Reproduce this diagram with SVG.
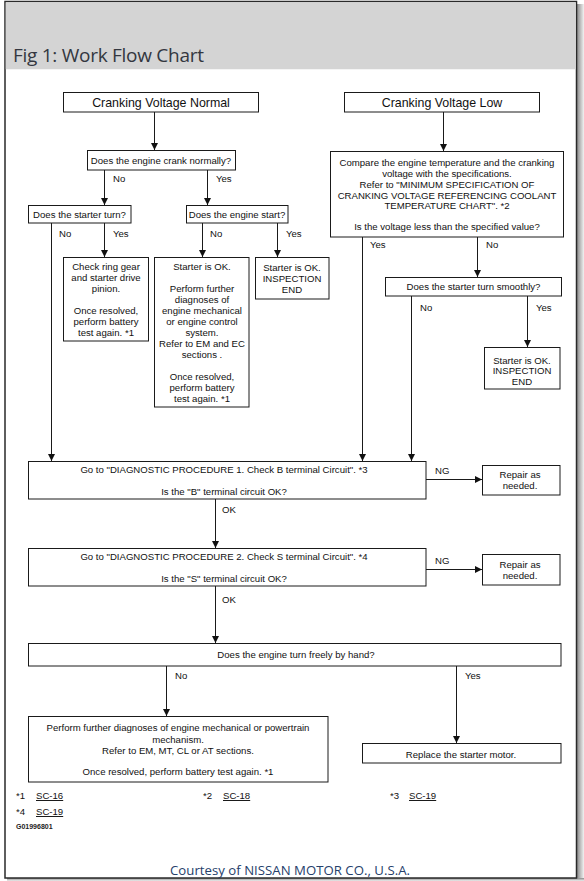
<svg xmlns="http://www.w3.org/2000/svg" width="584" height="881" viewBox="0 0 584 881">
<defs>
<style>
.box{fill:#fff;stroke:#1a1a1a;stroke-width:1}
.t{font-family:"Liberation Sans",Arial,sans-serif;font-size:9.6px;fill:#111;text-anchor:middle}
.lb{font-family:"Liberation Sans",Arial,sans-serif;font-size:9.6px;fill:#111}
.big{font-family:"Liberation Sans",Arial,sans-serif;font-size:12.4px;fill:#111;text-anchor:middle}
.c{fill:none;stroke:#1a1a1a;stroke-width:1}
.u{text-decoration:underline}
</style>
<marker id="ah" markerUnits="userSpaceOnUse" markerWidth="8" markerHeight="8" refX="7" refY="3.5" orient="auto">
<path d="M0,0 L7,3.5 L0,7 z" fill="#111"/>
</marker>
<linearGradient id="shr" x1="0" y1="0" x2="1" y2="0">
<stop offset="0" stop-color="#8a8a8a"/>
<stop offset="1" stop-color="#f2f2f2"/>
</linearGradient>
<linearGradient id="shb" x1="0" y1="0" x2="0" y2="1">
<stop offset="0" stop-color="#8a8a8a"/>
<stop offset="1" stop-color="#eeeeee"/>
</linearGradient>
</defs>
<rect x="0" y="0" width="584" height="881" fill="#fff"/>
<g id="frame">
<rect x="577" y="4" width="7" height="877" fill="url(#shr)"/>
<rect x="7" y="878" width="577" height="3" fill="url(#shb)"/>
<rect x="5" y="1.5" width="571.5" height="876.5" fill="#fff" stroke="#2a2a2a" stroke-width="1.5"/>
<rect x="5.75" y="2.25" width="570" height="67" fill="#d4d4d4"/>
<text x="13" y="62" font-family="'Open Sans','Noto Sans',sans-serif" font-size="19" fill="#333740" textLength="191" lengthAdjust="spacing">Fig 1: Work Flow Chart</text>
</g>
<g id="connectors">
<path class="c" d="M154.5,112 V150" marker-end="url(#ah)"/>
<path class="c" d="M443.5,112 V151" marker-end="url(#ah)"/>
<path class="c" d="M104.5,170 V205" marker-end="url(#ah)"/>
<path class="c" d="M207.5,170 V205" marker-end="url(#ah)"/>
<path class="c" d="M51.5,223 V461" marker-end="url(#ah)"/>
<path class="c" d="M104.5,223 V257" marker-end="url(#ah)"/>
<path class="c" d="M202.5,223 V257" marker-end="url(#ah)"/>
<path class="c" d="M277.5,223 V257" marker-end="url(#ah)"/>
<path class="c" d="M362.5,237 V461" marker-end="url(#ah)"/>
<path class="c" d="M477.5,237 V277" marker-end="url(#ah)"/>
<path class="c" d="M411.5,296 V461" marker-end="url(#ah)"/>
<path class="c" d="M527.5,296 V347" marker-end="url(#ah)"/>
<path class="c" d="M426,479.5 H482" marker-end="url(#ah)"/>
<path class="c" d="M215.5,499 V548" stroke="#555" marker-end="url(#ah)"/>
<path class="c" d="M426,569.5 H482" marker-end="url(#ah)"/>
<path class="c" d="M215.5,586 V643" stroke="#555" marker-end="url(#ah)"/>
<path class="c" d="M166.5,666 V716" stroke="#555" marker-end="url(#ah)"/>
<path class="c" d="M456.5,666 V743" marker-end="url(#ah)"/>
<text class="lb" x="113" y="182">No</text>
<text class="lb" x="216" y="182">Yes</text>
<text class="lb" x="59" y="237">No</text>
<text class="lb" x="113" y="237">Yes</text>
<text class="lb" x="210" y="237">No</text>
<text class="lb" x="286" y="237">Yes</text>
<text class="lb" x="370" y="247.5">Yes</text>
<text class="lb" x="486" y="247.5">No</text>
<text class="lb" x="420" y="310.5">No</text>
<text class="lb" x="536" y="310.5">Yes</text>
<text class="lb" x="435" y="473.5">NG</text>
<text class="lb" x="222" y="513">OK</text>
<text class="lb" x="435" y="563.5">NG</text>
<text class="lb" x="222" y="602.5">OK</text>
<text class="lb" x="175" y="679">No</text>
<text class="lb" x="465" y="679">Yes</text>
</g>
<g id="n_normal">
<rect class="box" x="63.5" y="92.5" width="195" height="19.5"/>
<text class="big" x="161" y="106.7">Cranking Voltage Normal</text>
</g>
<g id="n_low">
<rect class="box" x="344.5" y="92.5" width="195" height="19.5"/>
<text class="big" x="442" y="106.7">Cranking Voltage Low</text>
</g>
<g id="n_crank">
<rect class="box" x="87.5" y="150.5" width="148" height="19.5"/>
<text class="t" x="161" y="163.5">Does the engine crank normally?</text>
</g>
<g id="n_starter_turn">
<rect class="box" x="28.5" y="205.5" width="102.5" height="17.5"/>
<text class="t" x="79.5" y="218">Does the starter turn?</text>
</g>
<g id="n_engine_start">
<rect class="box" x="186.5" y="205.5" width="101.5" height="17.5"/>
<text class="t" x="237" y="218">Does the engine start?</text>
</g>
<g id="n_ring_gear">
<rect class="box" x="63.5" y="257.5" width="85" height="83.5"/>
<text class="t" x="106" y="270">Check ring gear</text>
<text class="t" x="106" y="281">and starter drive</text>
<text class="t" x="106" y="292">pinion.</text>
<text class="t" x="106" y="314">Once resolved,</text>
<text class="t" x="106" y="325">perform battery</text>
<text class="t" x="106" y="336">test again. *1</text>
</g>
<g id="n_starter_ok_further">
<rect class="box" x="154.5" y="257.5" width="94.5" height="149.5"/>
<text class="t" x="202" y="270">Starter is OK.</text>
<text class="t" x="202" y="292">Perform further</text>
<text class="t" x="202" y="303">diagnoses of</text>
<text class="t" x="202" y="314">engine mechanical</text>
<text class="t" x="202" y="325">or engine control</text>
<text class="t" x="202" y="336">system.</text>
<text class="t" x="202" y="347">Refer to EM and EC</text>
<text class="t" x="202" y="358">sections .</text>
<text class="t" x="202" y="380">Once resolved,</text>
<text class="t" x="202" y="391">perform battery</text>
<text class="t" x="202" y="402">test again. *1</text>
</g>
<g id="n_ok_end1">
<rect class="box" x="255.5" y="257.5" width="73.5" height="41.5"/>
<text class="t" x="292" y="271">Starter is OK.</text>
<text class="t" x="292" y="282">INSPECTION</text>
<text class="t" x="292" y="293">END</text>
</g>
<g id="n_compare">
<rect class="box" x="330.5" y="151.5" width="233" height="85.5"/>
<text class="t" x="447" y="166">Compare the engine temperature and the cranking</text>
<text class="t" x="447" y="176.5">voltage with the specifications.</text>
<text class="t" x="447" y="187.5">Refer to "MINIMUM SPECIFICATION OF</text>
<text class="t" x="447" y="198.5">CRANKING VOLTAGE REFERENCING COOLANT</text>
<text class="t" x="447" y="208.5">TEMPERATURE CHART". *2</text>
<text class="t" x="447" y="230">Is the voltage less than the specified value?</text>
</g>
<g id="n_smooth">
<rect class="box" x="385.5" y="277.5" width="176" height="18.5"/>
<text class="t" x="473.5" y="290">Does the starter turn smoothly?</text>
</g>
<g id="n_ok_end2">
<rect class="box" x="484.5" y="347.5" width="75.5" height="41.5"/>
<text class="t" x="522" y="363.5">Starter is OK.</text>
<text class="t" x="522" y="374">INSPECTION</text>
<text class="t" x="522" y="384.5">END</text>
</g>
<g id="n_diag1">
<rect class="box" x="28.5" y="461.5" width="397.5" height="37.5"/>
<text class="t" x="224" y="473">Go to "DIAGNOSTIC PROCEDURE 1. Check B terminal Circuit". *3</text>
<text class="t" x="224" y="495">Is the "B" terminal circuit OK?</text>
</g>
<g id="n_repair1">
<rect class="box" x="482.5" y="465.5" width="77.5" height="29.5"/>
<text class="t" x="520" y="478">Repair as</text>
<text class="t" x="520" y="489">needed.</text>
</g>
<g id="n_diag2">
<rect class="box" x="28.5" y="548.5" width="397.5" height="37.5"/>
<text class="t" x="224" y="560">Go to "DIAGNOSTIC PROCEDURE 2. Check S terminal Circuit". *4</text>
<text class="t" x="224" y="582">Is the "S" terminal circuit OK?</text>
</g>
<g id="n_repair2">
<rect class="box" x="482.5" y="554.5" width="77.5" height="30.5"/>
<text class="t" x="520" y="567.5">Repair as</text>
<text class="t" x="520" y="579">needed.</text>
</g>
<g id="n_freely">
<rect class="box" x="28.5" y="643.5" width="532.5" height="22.5"/>
<text class="t" x="296" y="657.5">Does the engine turn freely by hand?</text>
</g>
<g id="n_perform">
<rect class="box" x="28.5" y="716.5" width="299.5" height="65.5"/>
<text class="t" x="178" y="731">Perform further diagnoses of engine mechanical or powertrain</text>
<text class="t" x="178" y="742.5">mechanism.</text>
<text class="t" x="178" y="753.5">Refer to EM, MT, CL or AT sections.</text>
<text class="t" x="178" y="775">Once resolved, perform battery test again. *1</text>
</g>
<g id="n_replace">
<rect class="box" x="362.5" y="743.5" width="198.5" height="19.5"/>
<text class="t" x="461" y="758">Replace the starter motor.</text>
</g>
<g id="footnotes">
<text class="lb" x="16" y="799">*1</text>
<text class="lb u" x="36" y="799">SC-16</text>
<text class="lb" x="203" y="799">*2</text>
<text class="lb u" x="223" y="799">SC-18</text>
<text class="lb" x="390" y="799">*3</text>
<text class="lb u" x="409" y="799">SC-19</text>
<text class="lb" x="16" y="815">*4</text>
<text class="lb u" x="36" y="815">SC-19</text>
<text x="16" y="828.5" font-family="'Liberation Sans',Arial,sans-serif" font-size="7" font-weight="bold" fill="#222">G01996801</text>
<text x="170" y="875" font-family="'Open Sans','Noto Sans',sans-serif" font-size="13.2" fill="#25406b" textLength="240" lengthAdjust="spacing">Courtesy of NISSAN MOTOR CO., U.S.A.</text>
</g>
</svg>
